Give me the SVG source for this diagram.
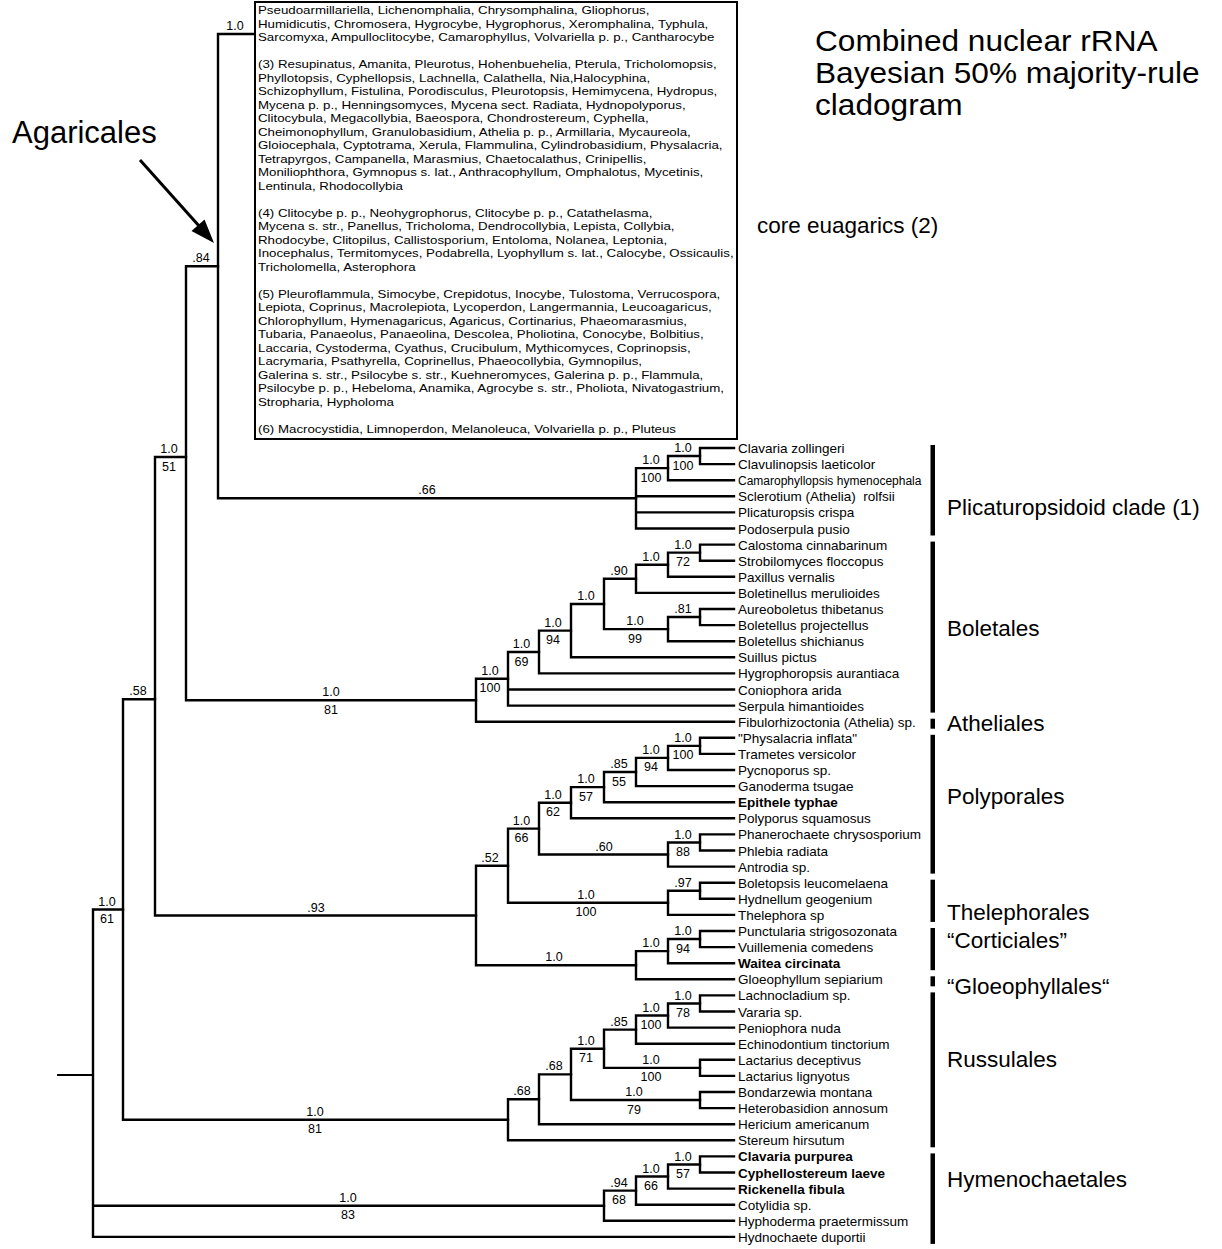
<svg xmlns="http://www.w3.org/2000/svg" width="1222" height="1249" viewBox="0 0 1222 1249">
<style>
text{font-family:"Liberation Sans",Arial,Helvetica,sans-serif;fill:#000}
.br{stroke:#000;stroke-width:2.4;fill:none;stroke-linecap:square;stroke-linejoin:miter}
.leaf text{font-size:13.5px}
.b{font-weight:bold}
.sup text{font-size:12.5px;text-anchor:middle}
.clade{font-size:22.5px}
.bx{font-size:10.5px}
.title{font-size:29px}
.bar{fill:#000}
</style>
<defs/>
<rect width="1222" height="1249" fill="#fff"/>

<g id="title" transform="translate(815 0) scale(1.09 1)"><text class="title" x="0" y="51">Combined nuclear rRNA</text><text class="title" x="0" y="83">Bayesian 50% majority-rule</text><text class="title" x="0" y="115">cladogram</text></g>

<g id="agaricales"><text x="12" y="143" style="font-size:31px">Agaricales</text>
<line x1="140" y1="160" x2="204" y2="231.5" stroke="#000" stroke-width="3"/>
<polygon points="214,243 191.5,231 204.5,219.5" fill="#000"/></g>

<g id="core-euagarics-box">
<rect x="255" y="2" width="482" height="437" fill="none" stroke="#000" stroke-width="2"/>
<g class="bx" transform="translate(258 0) scale(1.267 1)">
<text x="0" y="14.5" class="bx">Pseudoarmillariella, Lichenomphalia, Chrysomphalina, Gliophorus,</text>
<text x="0" y="28" class="bx">Humidicutis, Chromosera, Hygrocybe, Hygrophorus, Xeromphalina, Typhula,</text>
<text x="0" y="41.5" class="bx">Sarcomyxa, Ampulloclitocybe, Camarophyllus, Volvariella p. p., Cantharocybe</text>
<text x="0" y="68.5" class="bx">(3) Resupinatus, Amanita, Pleurotus, Hohenbuehelia, Pterula, Tricholomopsis,</text>
<text x="0" y="82" class="bx">Phyllotopsis, Cyphellopsis, Lachnella, Calathella, Nia,Halocyphina,</text>
<text x="0" y="95.5" class="bx">Schizophyllum, Fistulina, Porodisculus, Pleurotopsis, Hemimycena, Hydropus,</text>
<text x="0" y="109" class="bx">Mycena p. p., Henningsomyces, Mycena sect. Radiata, Hydnopolyporus,</text>
<text x="0" y="122.5" class="bx">Clitocybula, Megacollybia, Baeospora, Chondrostereum, Cyphella,</text>
<text x="0" y="136" class="bx">Cheimonophyllum, Granulobasidium, Athelia p. p., Armillaria, Mycaureola,</text>
<text x="0" y="149.5" class="bx">Gloiocephala, Cyptotrama, Xerula, Flammulina, Cylindrobasidium, Physalacria,</text>
<text x="0" y="163" class="bx">Tetrapyrgos, Campanella, Marasmius, Chaetocalathus, Crinipellis,</text>
<text x="0" y="176.5" class="bx">Moniliophthora, Gymnopus s. lat., Anthracophyllum, Omphalotus, Mycetinis,</text>
<text x="0" y="190" class="bx">Lentinula, Rhodocollybia</text>
<text x="0" y="217" class="bx">(4) Clitocybe p. p., Neohygrophorus, Clitocybe p. p., Catathelasma,</text>
<text x="0" y="230.5" class="bx">Mycena s. str., Panellus, Tricholoma, Dendrocollybia, Lepista, Collybia,</text>
<text x="0" y="244" class="bx">Rhodocybe, Clitopilus, Callistosporium, Entoloma, Nolanea, Leptonia,</text>
<text x="0" y="257.5" class="bx">Inocephalus, Termitomyces, Podabrella, Lyophyllum s. lat., Calocybe, Ossicaulis,</text>
<text x="0" y="271" class="bx">Tricholomella, Asterophora</text>
<text x="0" y="298" class="bx">(5) Pleuroflammula, Simocybe, Crepidotus, Inocybe, Tulostoma, Verrucospora,</text>
<text x="0" y="311.5" class="bx">Lepiota, Coprinus, Macrolepiota, Lycoperdon, Langermannia, Leucoagaricus,</text>
<text x="0" y="325" class="bx">Chlorophyllum, Hymenagaricus, Agaricus, Cortinarius, Phaeomarasmius,</text>
<text x="0" y="338.5" class="bx">Tubaria, Panaeolus, Panaeolina, Descolea, Pholiotina, Conocybe, Bolbitius,</text>
<text x="0" y="352" class="bx">Laccaria, Cystoderma, Cyathus, Crucibulum, Mythicomyces, Coprinopsis,</text>
<text x="0" y="365.5" class="bx">Lacrymaria, Psathyrella, Coprinellus, Phaeocollybia, Gymnopilus,</text>
<text x="0" y="379" class="bx">Galerina s. str., Psilocybe s. str., Kuehneromyces, Galerina p. p., Flammula,</text>
<text x="0" y="392.5" class="bx">Psilocybe p. p., Hebeloma, Anamika, Agrocybe s. str., Pholiota, Nivatogastrium,</text>
<text x="0" y="406" class="bx">Stropharia, Hypholoma</text>
<text x="0" y="433" class="bx">(6) Macrocystidia, Limnoperdon, Melanoleuca, Volvariella p. p., Pluteus</text>
</g>
</g>

<g id="connectors" class="br">
<path d="M58 1075 H93" stroke-width="1.8"/>
<path d="M93 909.55 V1236.9 M93 909.55 H123 M93 1205.7 H604 M93 1236.9 H734"/>
<path d="M123 699.3 V1119.8 M123 699.3 H155 M123 1119.8 H508"/>
<path d="M155 457 V915.45 M155 457 H186 M155 915.45 H476"/>
<path d="M186 266.2 V700.25 M186 266.2 H218 M186 700.25 H476"/>
<path d="M218 34 V498.3 M218 34 H254 M218 498.3 H636"/>
<path d="M636 468.15 V528.5 M636 468.15 H668 M636 496.3 H734 M636 512.4 H734 M636 528.5 H734"/>
<path d="M668 456.05 V480.2 M668 456.05 H700 M668 480.2 H734"/>
<path d="M700 448 V464.1 M700 448 H734 M700 464.1 H734"/>
<path d="M476 678.8 V721.7 M476 678.8 H508 M476 721.7 H734"/>
<path d="M508 652 V705.6 M508 652 H539 M508 689.5 H734 M508 705.6 H734"/>
<path d="M539 630.6 V673.4 M539 630.6 H571 M539 673.4 H734"/>
<path d="M571 603.95 V657.3 M571 603.95 H604 M571 657.3 H734"/>
<path d="M604 578.8 V629.1 M604 578.8 H636 M604 629.1 H668"/>
<path d="M636 564.7 V592.9 M636 564.7 H668 M636 592.9 H734"/>
<path d="M668 552.65 V576.8 M668 552.65 H700 M668 576.8 H734"/>
<path d="M700 544.6 V560.7 M700 544.6 H734 M700 560.7 H734"/>
<path d="M668 617.05 V641.2 M668 617.05 H700 M668 641.2 H734"/>
<path d="M700 609 V625.1 M700 609 H734 M700 625.1 H734"/>
<path d="M476 865.7 V965.2 M476 865.7 H508 M476 965.2 H636"/>
<path d="M508 828.6 V902.8 M508 828.6 H539 M508 902.8 H668"/>
<path d="M539 802.7 V854.5 M539 802.7 H571 M539 854.5 H668"/>
<path d="M571 787.1 V818.3 M571 787.1 H604 M571 818.3 H734"/>
<path d="M604 772 V802.2 M604 772 H636 M604 802.2 H734"/>
<path d="M636 757.9 V786.1 M636 757.9 H668 M636 786.1 H734"/>
<path d="M668 745.85 V770 M668 745.85 H700 M668 770 H734"/>
<path d="M700 737.8 V753.9 M700 737.8 H734 M700 753.9 H734"/>
<path d="M668 842.45 V866.6 M668 842.45 H700 M668 866.6 H734"/>
<path d="M700 834.4 V850.5 M700 834.4 H734 M700 850.5 H734"/>
<path d="M668 890.75 V914.9 M668 890.75 H700 M668 914.9 H734"/>
<path d="M700 882.7 V898.8 M700 882.7 H734 M700 898.8 H734"/>
<path d="M636 951.1 V979.3 M636 951.1 H668 M636 979.3 H734"/>
<path d="M668 939.05 V963.2 M668 939.05 H700 M668 963.2 H734"/>
<path d="M700 931 V947.1 M700 931 H734 M700 947.1 H734"/>
<path d="M508 1099.3 V1140.3 M508 1099.3 H539 M508 1140.3 H734"/>
<path d="M539 1074.4 V1124.2 M539 1074.4 H571 M539 1124.2 H734"/>
<path d="M571 1048.7 V1100.05 M571 1048.7 H604 M571 1100.05 H700"/>
<path d="M604 1029.6 V1067.85 M604 1029.6 H636 M604 1067.85 H700"/>
<path d="M636 1015.5 V1043.7 M636 1015.5 H668 M636 1043.7 H734"/>
<path d="M668 1003.45 V1027.6 M668 1003.45 H700 M668 1027.6 H734"/>
<path d="M700 995.4 V1011.5 M700 995.4 H734 M700 1011.5 H734"/>
<path d="M700 1059.8 V1075.9 M700 1059.8 H734 M700 1075.9 H734"/>
<path d="M700 1092 V1108.1 M700 1092 H734 M700 1108.1 H734"/>
<path d="M604 1190.6 V1220.8 M604 1190.6 H636 M604 1220.8 H734"/>
<path d="M636 1176.5 V1204.7 M636 1176.5 H668 M636 1204.7 H734"/>
<path d="M668 1164.45 V1188.6 M668 1164.45 H700 M668 1188.6 H734"/>
<path d="M700 1156.4 V1172.5 M700 1156.4 H734 M700 1172.5 H734"/>
</g>

<g id="support" class="sup">
<g id="n-box"><text x="235" y="30">1.0</text></g>
<g id="n-84"><text x="201" y="262.2">.84</text></g>
<g id="n-186"><text x="169" y="453">1.0</text><text x="169" y="470.5">51</text></g>
<g id="n-155"><text x="138" y="695.3">.58</text></g>
<g id="n-123"><text x="107" y="905.6">1.0</text><text x="107" y="923.1">61</text></g>
<g id="n-P1"><text x="683" y="452.1">1.0</text><text x="683" y="469.6">100</text></g>
<g id="n-P2"><text x="651" y="464.2">1.0</text><text x="651" y="481.7">100</text></g>
<g id="n-P3"><text x="427" y="494.3">.66</text></g>
<g id="n-A"><text x="683" y="548.7">1.0</text><text x="683" y="566.2">72</text></g>
<g id="n-B"><text x="651" y="560.7">1.0</text></g>
<g id="n-C"><text x="619" y="574.8">.90</text></g>
<g id="n-D"><text x="586" y="600">1.0</text></g>
<g id="n-F"><text x="683" y="613.1">.81</text></g>
<g id="n-E"><text x="635" y="625.1">1.0</text><text x="635" y="642.6">99</text></g>
<g id="n-G"><text x="553" y="626.6">1.0</text><text x="553" y="644.1">94</text></g>
<g id="n-H"><text x="521.5" y="648">1.0</text><text x="521.5" y="665.5">69</text></g>
<g id="n-I"><text x="490" y="674.8">1.0</text><text x="490" y="692.3">100</text></g>
<g id="n-J"><text x="331" y="696.3">1.0</text><text x="331" y="713.8">81</text></g>
<g id="n-Z"><text x="683" y="741.9">1.0</text><text x="683" y="759.4">100</text></g>
<g id="n-Y"><text x="651" y="753.9">1.0</text><text x="651" y="771.4">94</text></g>
<g id="n-X"><text x="619" y="768">.85</text><text x="619" y="785.5">55</text></g>
<g id="n-W"><text x="586" y="783.1">1.0</text><text x="586" y="800.6">57</text></g>
<g id="n-T"><text x="553" y="798.7">1.0</text><text x="553" y="816.2">62</text></g>
<g id="n-S"><text x="521.5" y="824.6">1.0</text><text x="521.5" y="842.1">66</text></g>
<g id="n-U"><text x="604" y="850.5">.60</text></g>
<g id="n-V"><text x="683" y="838.5">1.0</text><text x="683" y="856">88</text></g>
<g id="n-L"><text x="490" y="861.7">.52</text></g>
<g id="n-Q"><text x="683" y="886.8">.97</text></g>
<g id="n-R"><text x="586" y="898.8">1.0</text><text x="586" y="916.3">100</text></g>
<g id="n-Pn"><text x="683" y="935.1">1.0</text><text x="683" y="952.6">94</text></g>
<g id="n-N"><text x="651" y="947.1">1.0</text></g>
<g id="n-M"><text x="554" y="961.2">1.0</text></g>
<g id="n-K"><text x="316" y="911.5">.93</text></g>
<g id="n-II"><text x="683" y="999.5">1.0</text><text x="683" y="1017">78</text></g>
<g id="n-HH"><text x="651" y="1011.5">1.0</text><text x="651" y="1029">100</text></g>
<g id="n-FF"><text x="619" y="1025.6">.85</text></g>
<g id="n-GG"><text x="651" y="1063.9">1.0</text><text x="651" y="1081.4">100</text></g>
<g id="n-DD"><text x="586" y="1044.7">1.0</text><text x="586" y="1062.2">71</text></g>
<g id="n-EE"><text x="634" y="1096.1">1.0</text><text x="634" y="1113.6">79</text></g>
<g id="n-CC"><text x="554" y="1070.4">.68</text></g>
<g id="n-BB"><text x="522" y="1095.3">.68</text></g>
<g id="n-AA"><text x="315" y="1115.8">1.0</text><text x="315" y="1133.3">81</text></g>
<g id="n-MM"><text x="683" y="1160.5">1.0</text><text x="683" y="1178">57</text></g>
<g id="n-LL"><text x="651" y="1172.5">1.0</text><text x="651" y="1190">66</text></g>
<g id="n-KK"><text x="619" y="1186.6">.94</text><text x="619" y="1204.1">68</text></g>
<g id="n-JJ"><text x="348" y="1201.7">1.0</text><text x="348" y="1219.2">83</text></g>
</g>

<g id="leaves" class="leaf">
<g id="t00"><text x="738" y="453">Clavaria zollingeri</text></g>
<g id="t01"><text x="738" y="469.1">Clavulinopsis laeticolor</text></g>
<g id="t02"><text x="738" y="485.2" style="font-size:12px">Camarophyllopsis hymenocephala</text></g>
<g id="t03"><text x="738" y="501.3" style="white-space:pre">Sclerotium (Athelia)  rolfsii</text></g>
<g id="t04"><text x="738" y="517.4">Plicaturopsis crispa</text></g>
<g id="t05"><text x="738" y="533.5">Podoserpula pusio</text></g>
<g id="t06"><text x="738" y="549.6">Calostoma cinnabarinum</text></g>
<g id="t07"><text x="738" y="565.7">Strobilomyces floccopus</text></g>
<g id="t08"><text x="738" y="581.8">Paxillus vernalis</text></g>
<g id="t09"><text x="738" y="597.9">Boletinellus merulioides</text></g>
<g id="t10"><text x="738" y="614">Aureoboletus thibetanus</text></g>
<g id="t11"><text x="738" y="630.1">Boletellus projectellus</text></g>
<g id="t12"><text x="738" y="646.2">Boletellus shichianus</text></g>
<g id="t13"><text x="738" y="662.3">Suillus pictus</text></g>
<g id="t14"><text x="738" y="678.4">Hygrophoropsis aurantiaca</text></g>
<g id="t15"><text x="738" y="694.5">Coniophora arida</text></g>
<g id="t16"><text x="738" y="710.6">Serpula himantioides</text></g>
<g id="t17"><text x="738" y="726.7">Fibulorhizoctonia (Athelia) sp.</text></g>
<g id="t18"><text x="738" y="742.8">"Physalacria inflata"</text></g>
<g id="t19"><text x="738" y="758.9">Trametes versicolor</text></g>
<g id="t20"><text x="738" y="775">Pycnoporus sp.</text></g>
<g id="t21"><text x="738" y="791.1">Ganoderma tsugae</text></g>
<g id="t22"><text x="738" y="807.2" class="b">Epithele typhae</text></g>
<g id="t23"><text x="738" y="823.3">Polyporus squamosus</text></g>
<g id="t24"><text x="738" y="839.4">Phanerochaete chrysosporium</text></g>
<g id="t25"><text x="738" y="855.5">Phlebia radiata</text></g>
<g id="t26"><text x="738" y="871.6">Antrodia sp.</text></g>
<g id="t27"><text x="738" y="887.7">Boletopsis leucomelaena</text></g>
<g id="t28"><text x="738" y="903.8">Hydnellum geogenium</text></g>
<g id="t29"><text x="738" y="919.9">Thelephora sp</text></g>
<g id="t30"><text x="738" y="936">Punctularia strigosozonata</text></g>
<g id="t31"><text x="738" y="952.1">Vuillemenia comedens</text></g>
<g id="t32"><text x="738" y="968.2" class="b">Waitea circinata</text></g>
<g id="t33"><text x="738" y="984.3">Gloeophyllum sepiarium</text></g>
<g id="t34"><text x="738" y="1000.4">Lachnocladium sp.</text></g>
<g id="t35"><text x="738" y="1016.5">Vararia sp.</text></g>
<g id="t36"><text x="738" y="1032.6">Peniophora nuda</text></g>
<g id="t37"><text x="738" y="1048.7">Echinodontium tinctorium</text></g>
<g id="t38"><text x="738" y="1064.8">Lactarius deceptivus</text></g>
<g id="t39"><text x="738" y="1080.9">Lactarius lignyotus</text></g>
<g id="t40"><text x="738" y="1097">Bondarzewia montana</text></g>
<g id="t41"><text x="738" y="1113.1">Heterobasidion annosum</text></g>
<g id="t42"><text x="738" y="1129.2">Hericium americanum</text></g>
<g id="t43"><text x="738" y="1145.3">Stereum hirsutum</text></g>
<g id="t44"><text x="738" y="1161.4" class="b">Clavaria purpurea</text></g>
<g id="t45"><text x="738" y="1177.5" class="b">Cyphellostereum laeve</text></g>
<g id="t46"><text x="738" y="1193.6" class="b">Rickenella fibula</text></g>
<g id="t47"><text x="738" y="1209.7">Cotylidia sp.</text></g>
<g id="t48"><text x="738" y="1225.8">Hyphoderma praetermissum</text></g>
<g id="t49"><text x="738" y="1241.9">Hydnochaete duportii</text></g>
</g>

<g id="clades">
<g id="c-core"><text class="clade" x="757" y="233">core euagarics (2)</text></g>
<g id="c-plic"><rect class="bar" x="930.5" y="445" width="4.5" height="90.5"/><text class="clade" x="947" y="515">Plicaturopsidoid clade (1)</text></g>
<g id="c-bol"><rect class="bar" x="930.5" y="541.6" width="4.5" height="171"/><text class="clade" x="947" y="636">Boletales</text></g>
<g id="c-ath"><rect class="bar" x="930.5" y="718.7" width="4.5" height="10"/><text class="clade" x="947" y="731">Atheliales</text></g>
<g id="c-pol"><rect class="bar" x="930.5" y="734.8" width="4.5" height="138.8"/><text class="clade" x="947" y="804">Polyporales</text></g>
<g id="c-the"><rect class="bar" x="930.5" y="879.7" width="4.5" height="42.2"/><text class="clade" x="947" y="920">Thelephorales</text></g>
<g id="c-cor"><rect class="bar" x="930.5" y="928" width="4.5" height="42.2"/><text class="clade" x="947" y="947.5">“Corticiales”</text></g>
<g id="c-glo"><rect class="bar" x="930.5" y="976.3" width="4.5" height="10"/><text class="clade" x="947" y="994">“Gloeophyllales“</text></g>
<g id="c-rus"><rect class="bar" x="930.5" y="992.4" width="4.5" height="154.9"/><text class="clade" x="947" y="1067">Russulales</text></g>
<g id="c-hym"><rect class="bar" x="930.5" y="1153.4" width="4.5" height="90.5"/><text class="clade" x="947" y="1187">Hymenochaetales</text></g>
</g>
</svg>
